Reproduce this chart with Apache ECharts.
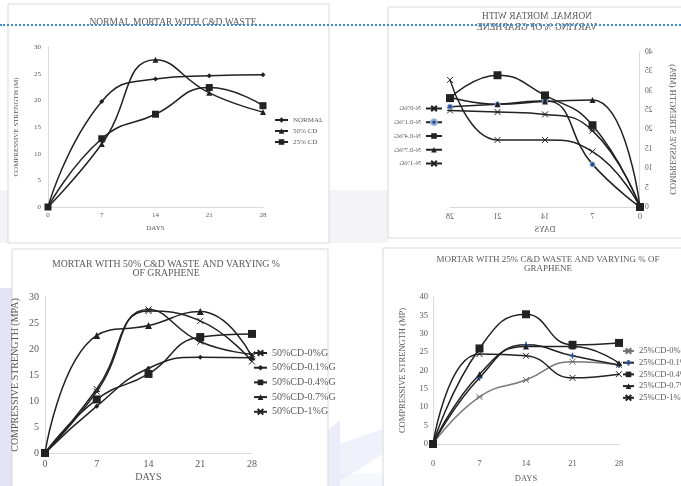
<!DOCTYPE html>
<html>
<head>
<meta charset="utf-8">
<script src="https://cdn.jsdelivr.net/npm/echarts@6/dist/echarts.min.js"></script>
<style>
  html, body { margin: 0; padding: 0; background: #fff; }
  #page { position: relative; width: 681px; height: 486px; overflow: hidden; }
  .layer { position: absolute; left: 0; top: 0; width: 681px; height: 486px; }
  /* the "normal mortar with varying graphene" panel is printed mirror-image */
  #mirror { transform: scaleX(-1); transform-origin: 50% 50%; }
  #rule { position: absolute; left: 0; top: 24px; width: 681px; height: 0;
          border-top: 2px dotted #3b8ddc; }
</style>
</head>
<body>
<div id="page">
  <div id="main" class="layer"></div>
  <div id="mirror" class="layer"></div>
  <div id="rule"></div>
</div>
<script>
// ---- data -------------------------------------------------------------
const days = [0, 7, 14, 21, 28];

// Normal mortar with C&D waste (MPa)
const normalMortar = [0, 19.8, 24.0, 24.6, 24.8];
const cd50 = [0, 11.8, 27.6, 21.4, 17.8];
const cd25 = [0, 12.8, 17.4, 22.4, 19.0];

// Normal mortar with varying % of graphene
const n0G = [0, 19.7, 23.9, 24.5, 24.9];
const n01G = [0, 11.0, 27.4, 26.5, 25.9];
const n04G = [0, 21.1, 28.8, 34.0, 28.1];
const n07G = [0, 27.6, 27.2, 26.5, 28.3];
const n1G = [0, 14.3, 17.3, 17.3, 32.8];

// Mortar with 50% C&D waste and varying % of graphene
const cd50g0 = [0, 11.8, 27.6, 21.4, 19.0];
const cd50g01 = [0, 9.0, 16.3, 18.4, 18.3];
const cd50g04 = [0, 10.3, 15.2, 22.3, 22.9];
const cd50g07 = [0, 22.6, 24.5, 27.2, 18.5];
const cd50g1 = [0, 12.3, 27.3, 25.4, 17.6];

// Mortar with 25% C&D waste and varying % of graphene
const cd25g0 = [0, 12.8, 17.4, 22.4, 21.5];
const cd25g01 = [0, 18.0, 27.0, 24.0, 21.5];
const cd25g04 = [0, 26.0, 35.3, 27.0, 27.5];
const cd25g07 = [0, 19.0, 26.5, 26.5, 22.0];
const cd25g1 = [0, 24.5, 24.0, 18.0, 19.0];

// ---- styling helpers --------------------------------------------------
const SERIF = '"Liberation Serif", "DejaVu Serif", serif';
const INK = '#222222';
const LABEL = '#595959';
const BOX = '#d9d9d9';
const X_MARK = 'path://M0,0L10,10M10,0L0,10';
const STAR_MARK = 'path://M0,0L10,10M10,0L0,10M0,5L10,5';
const PLUS_MARK = 'path://M5,0L5,10M0,5L10,5';

function line(name, vals, idx, symbol, size, opt) {
  opt = opt || {};
  const color = opt.color || INK;
  return {
    type: 'line', name: name, xAxisIndex: idx, yAxisIndex: idx,
    data: days.map((d, i) => [d, vals[i]]),
    smooth: 0.5, symbol: symbol, symbolSize: size,
    lineStyle: { color: opt.lineColor || INK, width: 1.5 },
    itemStyle: { color: color, borderColor: opt.border || color, borderWidth: opt.bw || 0 },
    emphasis: { disabled: true }, z: 3
  };
}

function xAxis(idx, size, margin, gap) {
  return {
    type: 'value', gridIndex: idx, min: 0, max: 28, interval: 7,
    axisLine: { lineStyle: { color: BOX, width: 1 } },
    axisTick: { show: false }, splitLine: { show: false },
    axisLabel: { fontFamily: SERIF, fontSize: size, color: LABEL, margin: margin },
    name: 'DAYS', nameLocation: 'middle', nameGap: gap,
    nameTextStyle: { fontFamily: SERIF, fontSize: size, color: LABEL }
  };
}

function yAxis(idx, max, size, margin, name, gap, nameSize) {
  return {
    type: 'value', gridIndex: idx, min: 0, max: max, interval: 5,
    axisLine: { show: true, lineStyle: { color: BOX, width: 1 } },
    axisTick: { show: false }, splitLine: { show: false },
    axisLabel: { fontFamily: SERIF, fontSize: size, color: LABEL, margin: margin },
    name: name, nameLocation: 'middle', nameGap: gap, nameRotate: 90,
    nameTextStyle: { fontFamily: SERIF, fontSize: nameSize, color: LABEL }
  };
}

function legend(names, left, top, size, lh, itemW, gap) {
  return {
    data: names, orient: 'vertical', left: left, top: top,
    itemWidth: itemW, itemHeight: 7, itemGap: gap, padding: 0,
    textStyle: { fontFamily: SERIF, fontSize: size, color: LABEL, lineHeight: lh },
    selectedMode: false
  };
}

function title(x, y, text, size, lh) {
  return {
    type: 'text', x: x, y: y, z: 5,
    style: { text: text, align: 'center', verticalAlign: 'middle',
             fontFamily: SERIF, fontSize: size, lineHeight: lh, fill: '#5a5a5a' }
  };
}

function patch(points, fill) {
  return { type: 'polygon', z: -5, shape: { points: points }, style: { fill: fill } };
}

// ---- three upright panels ---------------------------------------------
const main = echarts.init(document.getElementById('main'), null, { width: 681, height: 486 });
main.setOption({
  animation: false,
  grid: [
    { left: 48, top: 47, width: 215, height: 160 },
    { left: 45, top: 297, width: 207, height: 156 },
    { left: 433, top: 297, width: 186, height: 147 }
  ],
  xAxis: [xAxis(0, 7, 5, 18), xAxis(1, 10, 6, 19), xAxis(2, 8.5, 15, 30)],
  yAxis: [
    yAxis(0, 30, 7, 7, 'COMPRESSIVE STRENGTH (M)', 28, 7),
    yAxis(1, 30, 10, 6, 'COMPRESSIVE STRENGTH (MPA)', 25, 10),
    yAxis(2, 40, 8.5, 5, 'COMPRESSIVE STRENGTH (MP)', 26, 8.5)
  ],
  legend: [
    legend(['NORMAL', '50% CD', '25% CD'], 274, 116, 7, 8, 13, 3),
    legend(['50%CD-0%G', '50%CD-0.1%G', '50%CD-0.4%G', '50%CD-0.7%G', '50%CD-1%G'], 253, 347, 10, 12, 13, 2.7),
    legend(['25%CD-0%G', '25%CD-0.1%G', '25%CD-0.4%G', '25%CD-0.7%G', '25%CD-1%G'], 622, 346, 8.5, 10, 11, 1.7)
  ],
  graphic: [
    { type: 'rect', z: -8, shape: { x: 0, y: 190, width: 388, height: 53 }, style: { fill: '#f4f4f6' } },
    { type: 'rect', z: -4, shape: { x: 8, y: 4, width: 321, height: 239 }, style: { fill: '#fff', stroke: BOX, lineWidth: 1 } },
    { type: 'rect', z: -4, shape: { x: 12, y: 249, width: 316, height: 250 }, style: { fill: '#fff', stroke: BOX, lineWidth: 1 } },
    { type: 'rect', z: -4, shape: { x: 383, y: 248, width: 310, height: 250 }, style: { fill: '#fff', stroke: BOX, lineWidth: 1 } },
    patch([[0, 288], [12, 288], [12, 486], [0, 486]], 'rgba(186,186,232,0.4)'),
    patch([[12, 330], [24, 340], [24, 486], [12, 486]], 'rgba(200,200,240,0.18)'),
    patch([[328, 430], [340, 420], [340, 486], [328, 486]], 'rgba(190,190,235,0.3)'),
    patch([[340, 444], [362, 436], [386, 428], [394, 434], [382, 454], [358, 470], [340, 480]], 'rgba(198,198,238,0.25)'),
    patch([[340, 474], [460, 470], [460, 486], [340, 486]], 'rgba(205,205,242,0.18)'),
    patch([[600, 476], [681, 458], [681, 486], [600, 486]], 'rgba(200,200,240,0.22)'),
    title(173, 22, 'NORMAL MORTAR WITH C&D WASTE', 9.5, 11),
    title(166, 268.7, 'MORTAR WITH 50% C&D WASTE AND VARYING %\nOF GRAPHENE', 9.8, 9.5),
    title(548, 264.5, 'MORTAR WITH 25% C&D WASTE AND VARYING % OF\nGRAPHENE', 9, 9)
  ],
  series: [
    line('NORMAL', normalMortar, 0, 'diamond', 5),
    line('50% CD', cd50, 0, 'triangle', 6),
    line('25% CD', cd25, 0, 'rect', 7),

    line('50%CD-0%G', cd50g0, 1, STAR_MARK, 6, { bw: 1 }),
    line('50%CD-0.1%G', cd50g01, 1, 'diamond', 5),
    line('50%CD-0.4%G', cd50g04, 1, 'rect', 8),
    line('50%CD-0.7%G', cd50g07, 1, 'triangle', 7),
    line('50%CD-1%G', cd50g1, 1, X_MARK, 6, { bw: 1 }),

    line('25%CD-0%G', cd25g0, 2, STAR_MARK, 6, { bw: 1, color: '#6f6f6f', lineColor: '#7a7a7a' }),
    line('25%CD-0.1%G', cd25g01, 2, PLUS_MARK, 6, { bw: 1.5, color: '#2a4d8f' }),
    line('25%CD-0.4%G', cd25g04, 2, 'rect', 8),
    line('25%CD-0.7%G', cd25g07, 2, 'triangle', 6),
    line('25%CD-1%G', cd25g1, 2, X_MARK, 6, { bw: 1 })
  ]
});

// ---- mirrored panel: normal mortar with varying % of graphene ---------
const mirror = echarts.init(document.getElementById('mirror'), null, { width: 681, height: 486 });
mirror.setOption({
  animation: false,
  grid: { left: 41, top: 52, width: 190, height: 155 },
  xAxis: xAxis(0, 8, 6, 19),
  yAxis: yAxis(0, 40, 7.5, 5, 'COMPRESSIVE STRENGTH (MPA)', 28, 8.5),
  legend: legend(['N-0%G', 'N-0.1%G', 'N-0.4%G', 'N-0.7%G', 'N-1%G'], 238, 104, 7, 9, 16, 4.75),
  graphic: [
    { type: 'rect', z: -4, shape: { x: -10, y: 7, width: 303, height: 231 }, style: { fill: '#fff', stroke: BOX, lineWidth: 1 } },
    title(144, 21.5, 'NORMAL MORTAR WITH\nVARYING % OF GRAPHENE', 9.5, 11)
  ],
  series: [
    line('N-0%G', n0G, 0, STAR_MARK, 6, { bw: 1 }),
    line('N-0.1%G', n01G, 0, 'circle', 5, { color: '#2a4d8f', border: '#9ab0dc', bw: 1 }),
    line('N-0.4%G', n04G, 0, 'rect', 8),
    line('N-0.7%G', n07G, 0, 'triangle', 6),
    line('N-1%G', n1G, 0, X_MARK, 6, { bw: 1 })
  ]
});
</script>
</body>
</html>
